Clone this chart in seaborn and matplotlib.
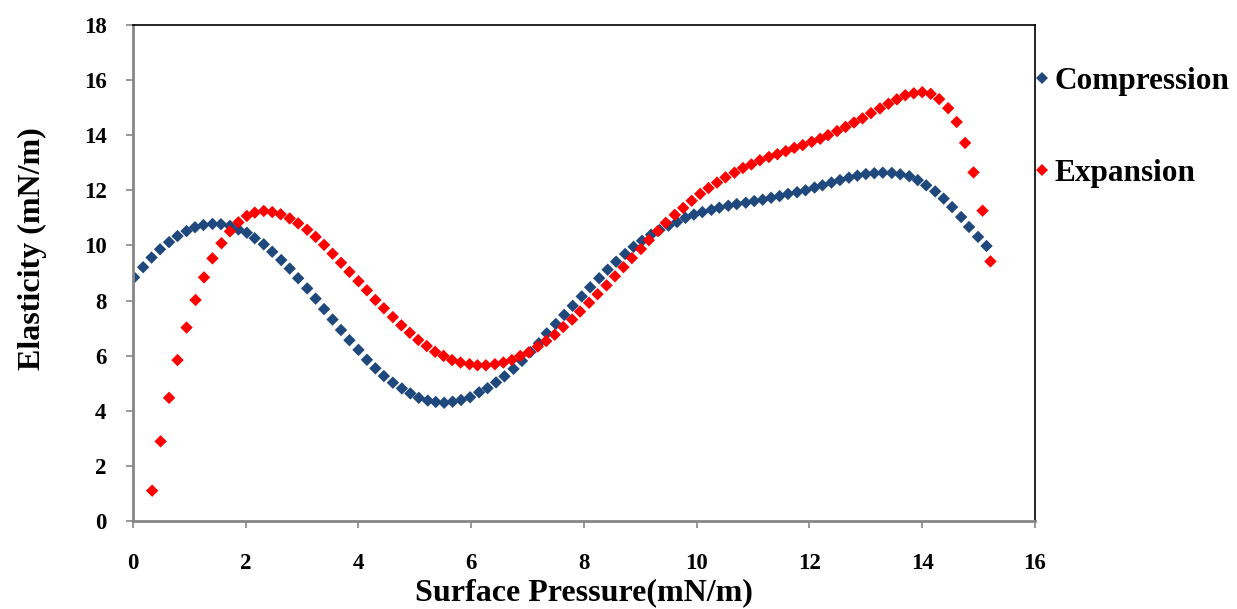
import numpy as np
import pandas as pd
import matplotlib
matplotlib.use("Agg")
import matplotlib.pyplot as plt
import seaborn as sns

# surface pressure (mN/m) and elasticity (mN/m)
comp_x = [0.02, 0.18, 0.33, 0.48, 0.64, 0.79, 0.95, 1.10, 1.25, 1.41,
          1.56, 1.72, 1.87, 2.02, 2.16, 2.32, 2.47, 2.63, 2.78, 2.93,
          3.09, 3.24, 3.39, 3.54, 3.69, 3.84, 4.00, 4.15, 4.30, 4.45,
          4.61, 4.77, 4.92, 5.07, 5.23, 5.37, 5.52, 5.67, 5.82, 5.98,
          6.14, 6.29, 6.44, 6.59, 6.75, 6.90, 7.05, 7.20, 7.34, 7.50,
          7.65, 7.80, 7.96, 8.11, 8.27, 8.42, 8.57, 8.73, 8.88, 9.03,
          9.19, 9.34, 9.50, 9.65, 9.80, 9.95, 10.10, 10.26, 10.40, 10.56,
          10.71, 10.87, 11.02, 11.17, 11.32, 11.47, 11.62, 11.78, 11.93, 12.09,
          12.23, 12.39, 12.54, 12.70, 12.85, 13.00, 13.15, 13.30, 13.46, 13.61,
          13.77, 13.92, 14.07, 14.23, 14.38, 14.53, 14.69, 14.83, 14.99, 15.14]
comp_y = [8.84, 9.21, 9.56, 9.86, 10.12, 10.34, 10.52, 10.66, 10.74, 10.78,
          10.77, 10.71, 10.58, 10.46, 10.26, 10.04, 9.77, 9.47, 9.16, 8.81,
          8.44, 8.07, 7.69, 7.31, 6.93, 6.56, 6.21, 5.85, 5.54, 5.26,
          5.02, 4.81, 4.63, 4.47, 4.37, 4.32, 4.29, 4.33, 4.39, 4.49,
          4.67, 4.82, 5.03, 5.25, 5.52, 5.81, 6.13, 6.45, 6.81, 7.15,
          7.48, 7.81, 8.15, 8.48, 8.81, 9.12, 9.41, 9.69, 9.95, 10.17,
          10.39, 10.56, 10.72, 10.85, 11.00, 11.12, 11.21, 11.29, 11.37, 11.44,
          11.50, 11.55, 11.61, 11.66, 11.73, 11.79, 11.87, 11.93, 12.00, 12.10,
          12.18, 12.28, 12.37, 12.46, 12.53, 12.59, 12.62, 12.64, 12.63, 12.58,
          12.51, 12.37, 12.18, 11.96, 11.70, 11.39, 11.03, 10.67, 10.31, 9.98]

exp_x = [0.34, 0.49, 0.64, 0.79, 0.95, 1.11, 1.26, 1.41, 1.57, 1.72,
         1.87, 2.02, 2.16, 2.32, 2.47, 2.62, 2.78, 2.93, 3.09, 3.24,
         3.39, 3.54, 3.69, 3.84, 4.00, 4.15, 4.30, 4.45, 4.61, 4.76,
         4.91, 5.06, 5.21, 5.36, 5.51, 5.66, 5.81, 5.97, 6.11, 6.26,
         6.42, 6.57, 6.72, 6.87, 7.02, 7.18, 7.33, 7.48, 7.63, 7.79,
         7.93, 8.09, 8.24, 8.40, 8.55, 8.70, 8.85, 9.01, 9.15, 9.31,
         9.45, 9.61, 9.76, 9.91, 10.06, 10.21, 10.36, 10.51, 10.67, 10.82,
         10.97, 11.12, 11.28, 11.43, 11.58, 11.73, 11.88, 12.04, 12.19, 12.33,
         12.49, 12.64, 12.79, 12.94, 13.09, 13.25, 13.40, 13.55, 13.70, 13.85,
         14.00, 14.15, 14.30, 14.46, 14.61, 14.76, 14.91, 15.07, 15.21]
exp_y = [1.10, 2.89, 4.47, 5.84, 7.02, 8.02, 8.84, 9.53, 10.08, 10.51,
         10.84, 11.07, 11.19, 11.25, 11.21, 11.13, 10.98, 10.80, 10.57, 10.31,
         10.02, 9.70, 9.37, 9.04, 8.70, 8.37, 8.02, 7.72, 7.40, 7.10,
         6.83, 6.57, 6.35, 6.14, 5.99, 5.84, 5.75, 5.69, 5.65, 5.65,
         5.69, 5.75, 5.84, 5.99, 6.12, 6.33, 6.53, 6.76, 7.04, 7.31,
         7.60, 7.92, 8.23, 8.55, 8.88, 9.21, 9.54, 9.87, 10.19, 10.52,
         10.82, 11.11, 11.36, 11.62, 11.87, 12.08, 12.28, 12.47, 12.64, 12.81,
         12.94, 13.09, 13.21, 13.31, 13.42, 13.54, 13.64, 13.76, 13.87, 14.00,
         14.15, 14.30, 14.46, 14.61, 14.80, 14.97, 15.14, 15.30, 15.45, 15.52,
         15.56, 15.50, 15.31, 14.98, 14.48, 13.72, 12.65, 11.26, 9.42]

series_names = ["Compression", "Expansion"]
series_colors = ["#1F497D", "#FF0000"]

df = pd.concat([
    pd.DataFrame({"pressure": comp_x, "elasticity": comp_y, "series": series_names[0]}),
    pd.DataFrame({"pressure": exp_x, "elasticity": exp_y, "series": series_names[1]}),
])

sns.set_style("white")
plt.rcParams["font.family"] = ["Liberation Serif", "DejaVu Serif"]
plt.rcParams["font.weight"] = "bold"
plt.rcParams["text.color"] = "black"
plt.rcParams["axes.labelcolor"] = "black"

fig = plt.figure(figsize=(12.37, 6.09), dpi=100)
ax = fig.add_axes([0.1075, 0.1445, 0.7292, 0.8145])

sns.scatterplot(data=df, x="pressure", y="elasticity", hue="series",
                palette=dict(zip(series_names, series_colors)),
                marker="D", s=40, linewidth=0, ax=ax)

ax.set_xlim(0, 16)
ax.set_ylim(0, 18)
ax.set_xticks(range(0, 17, 2))
ax.set_yticks(range(0, 19, 2))

for side in ["left", "bottom"]:
    ax.spines[side].set_color("#868686")
    ax.spines[side].set_linewidth(2)
for side in ["top", "right"]:
    ax.spines[side].set_color("black")
    ax.spines[side].set_linewidth(1.2)

ax.tick_params(axis="both", direction="out", length=5, width=1.2, color="#868686",
               labelsize=16.5, labelcolor="black")
ax.tick_params(axis="y", pad=14, left=True)
ax.tick_params(axis="x", pad=18, bottom=True)
for lbl in ax.get_xticklabels() + ax.get_yticklabels():
    lbl.set_fontweight("bold")

ax.set_xlabel("Surface Pressure(mN/m)", fontsize=23, fontweight="bold", labelpad=3)
ax.set_ylabel("Elasticity (mN/m)", fontsize=23, fontweight="bold")
ax.yaxis.set_label_coords(-0.095, 0.55)

leg = ax.legend(loc="upper left", bbox_to_anchor=(0.999, 0.915), frameon=False,
                fontsize=22.5, handlelength=0.5, handletextpad=0.15,
                labelspacing=2.0, borderaxespad=0, borderpad=0)
for t in leg.get_texts():
    t.set_fontweight("bold")
    t.set_color("black")

fig.savefig("out.png", dpi=100)
